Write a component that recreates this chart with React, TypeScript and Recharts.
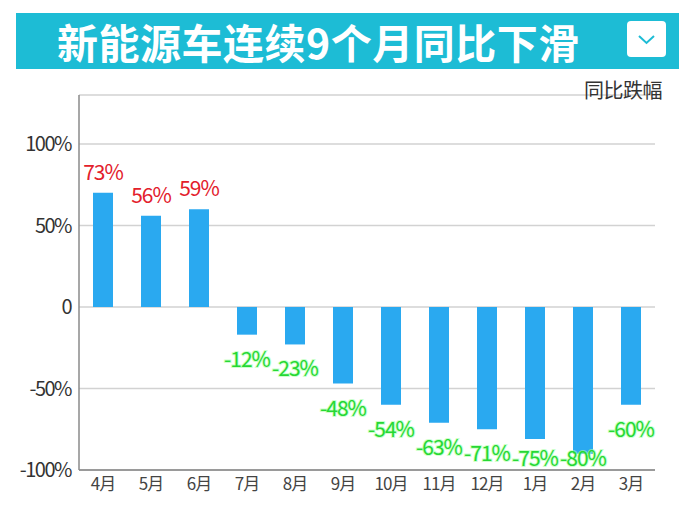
import React from 'react';
import { BarChart, Bar, XAxis, YAxis, CartesianGrid, LabelList } from 'recharts';

// months (Apr -> Mar), bar heights as drawn, printed labels
const months = ['4月', '5月', '6月', '7月', '8月', '9月', '10月', '11月', '12月', '1月', '2月', '3月'];
const barValues = [70, 56, 60, -17, -23, -47, -60, -71, -75, -81, -90, -60];
const printedLabels = ['73%', '56%', '59%', '-12%', '-23%', '-48%', '-54%', '-63%', '-71%', '-75%', '-80%', '-60%'];
const yTicks = [-100, -50, 0, 50, 100];

const FONT = '"Noto Sans CJK SC", "Noto Sans", sans-serif';
const TEAL = '#1dbcd5';
const BAR = '#2aa9f0';
const RED = '#e3202b';
const GREEN = '#26d834';

const data = months.map((m, i) => ({ month: m, value: barValues[i], label: printedLabels[i] }));

const ValueLabel = (props: any) => {
  const { x, y, width, height, value, index } = props;
  const cx = x + width / 2;
  const top = Math.min(y, y + height);
  const bottom = Math.max(y, y + height);
  const positive = barValues[index] >= 0;
  // keep the negative labels above the month labels
  const ty = positive ? top - 13 : Math.min(bottom + 32, 466);
  return (
    <text
      x={cx}
      y={ty}
      textAnchor="middle"
      fontSize={21}
      fontFamily={FONT}
      letterSpacing={-1}
      fill={positive ? RED : GREEN}
      stroke={positive ? 'none' : 'rgba(170,255,170,0.6)'}
      strokeWidth={positive ? 0 : 2}
      paintOrder="stroke"
    >
      {value}
    </text>
  );
};

const App: React.FC = () => {
  return (
    <div style={{ position: 'absolute', left: 0, top: 0, width: 700, height: 514, background: '#fff', fontFamily: FONT }}>
      <BarChart
        width={700}
        height={514}
        data={data}
        margin={{ top: 95, right: 45, left: 0, bottom: 14 }}
      >
        <CartesianGrid vertical={false} stroke="#d2d2d2" strokeWidth={1.5} />
        <XAxis
          dataKey="month"
          height={30}
          tickLine={false}
          tickSize={6}
          axisLine={{ stroke: '#9a9a9a', strokeWidth: 2 }}
          tick={{ fontSize: 17, fill: '#444', fontFamily: FONT, letterSpacing: -1 }}
          interval={0}
        />
        <YAxis
          width={79}
          domain={[-100, 130]}
          ticks={yTicks}
          allowDataOverflow
          tickLine={false}
          tickMargin={2}
          axisLine={{ stroke: '#8a8a8a', strokeWidth: 1.5 }}
          tick={{ fontSize: 20, fill: '#333', fontFamily: FONT, letterSpacing: -1.5 }}
          tickFormatter={(v: number) => (v === 0 ? '0' : `${v}%`)}
        />
        <Bar dataKey="value" fill={BAR} barSize={20} isAnimationActive={false}>
          <LabelList dataKey="label" content={<ValueLabel />} />
        </Bar>
      </BarChart>

      <div
        style={{
          position: 'absolute',
          left: 16,
          top: 13,
          width: 663,
          height: 56,
          background: TEAL,
        }}
      >
        <div
          style={{
            position: 'absolute',
            left: 41,
            top: 0,
            height: 56,
            lineHeight: '56px',
            color: '#fff',
            fontSize: 41,
            fontWeight: 700,
            whiteSpace: 'nowrap',
            letterSpacing: 0.5,
          }}
        >
          新能源车连续9个月同比下滑
        </div>
        <div
          style={{
            position: 'absolute',
            left: 611,
            top: 8,
            width: 39,
            height: 36,
            background: '#fff',
            borderRadius: 4,
          }}
        >
          <svg width={39} height={36}>
            <polyline points="12,15 19.5,22 27,15" fill="none" stroke={TEAL} strokeWidth={2} />
          </svg>
        </div>
      </div>

      <div
        style={{
          position: 'absolute',
          right: 38,
          top: 78,
          fontSize: 20,
          lineHeight: '24px',
          color: '#333',
          letterSpacing: -0.5,
          whiteSpace: 'nowrap',
        }}
      >
        同比跌幅
      </div>
    </div>
  );
};

export default App;
